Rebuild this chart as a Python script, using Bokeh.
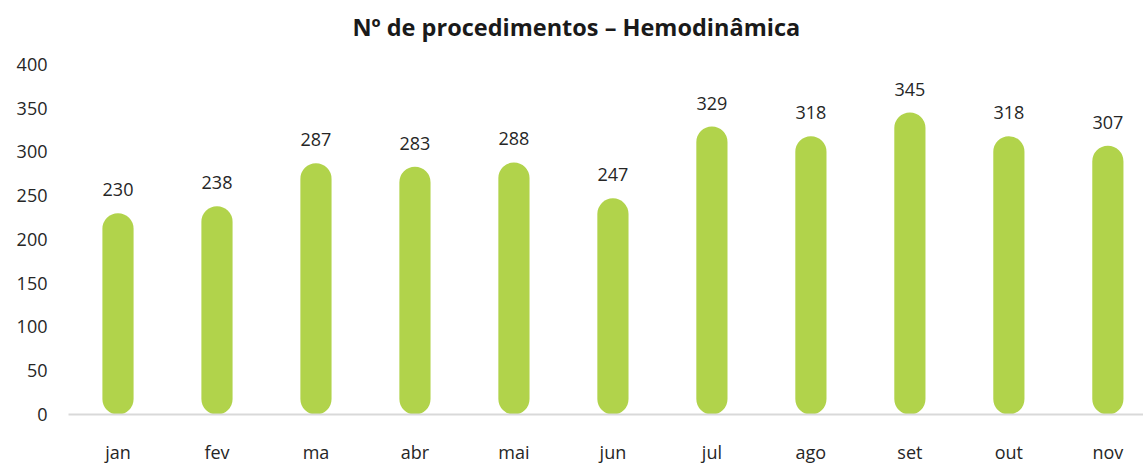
from bokeh.plotting import figure
from bokeh.models import Range1d, FixedTicker, ColumnDataSource
from bokeh.core.properties import value
from bokeh.embed import file_html
from bokeh.resources import INLINE

TITLE = "Nº de procedimentos – Hemodinâmica"
months = ["jan", "fev", "ma", "abr", "mai", "jun", "jul", "ago", "set", "out", "nov"]
counts = [230, 238, 287, 283, 288, 247, 329, 318, 345, 318, 307]
y_ticks = [0, 50, 100, 150, 200, 250, 300, 350, 400]

FONT = "Open Sans"
TXT = "#262626"
GREEN = "#B1D34B"

xs = list(range(len(months)))
src = ColumnDataSource(dict(x=xs, y=counts, lbl=[str(c) for c in counts]))

# frame spans the full height above the axis so the title can sit inside it
Y_TOP = 473.0
p = figure(width=1143, height=467, output_backend="svg", toolbar_location=None,
           x_range=Range1d(-0.5, 10.36), y_range=Range1d(0, Y_TOP),
           min_border_left=68, min_border_right=0, min_border_top=0, min_border_bottom=53)

p.text(x=[4.63], y=[442.5], text=[TITLE], text_align="center", text_baseline="middle",
       text_font=value(FONT), text_font_size="23.5px", text_font_style="bold",
       text_color="#1a1a1a")

p.vbar(x="x", top="y", bottom=0, width=0.315, source=src, color=GREEN,
       line_color=None, border_radius=16)

p.text(x="x", y="y", text="lbl", source=src, text_align="center",
       text_baseline="bottom", y_offset=-17, text_font=value(FONT),
       text_font_size="18px", text_color=TXT)

p.grid.visible = False
p.outline_line_color = None

p.yaxis.ticker = FixedTicker(ticks=y_ticks)
p.yaxis.axis_line_color = None
p.yaxis.major_tick_line_color = None
p.yaxis.minor_tick_line_color = None
p.yaxis.major_label_text_font = FONT
p.yaxis.major_label_text_font_size = "18px"
p.yaxis.major_label_text_color = TXT
p.yaxis.major_label_standoff = 15

p.xaxis.ticker = FixedTicker(ticks=xs)
p.xaxis.major_label_overrides = {i: m for i, m in enumerate(months)}
p.xaxis.axis_line_color = "#D9D9D9"
p.xaxis.axis_line_width = 2
p.xaxis.major_tick_line_color = None
p.xaxis.minor_tick_line_color = None
p.xaxis.major_label_text_font = FONT
p.xaxis.major_label_text_font_size = "18px"
p.xaxis.major_label_text_color = TXT
p.xaxis.major_label_standoff = 19

open("out.html", "w").write(file_html(p, INLINE))
